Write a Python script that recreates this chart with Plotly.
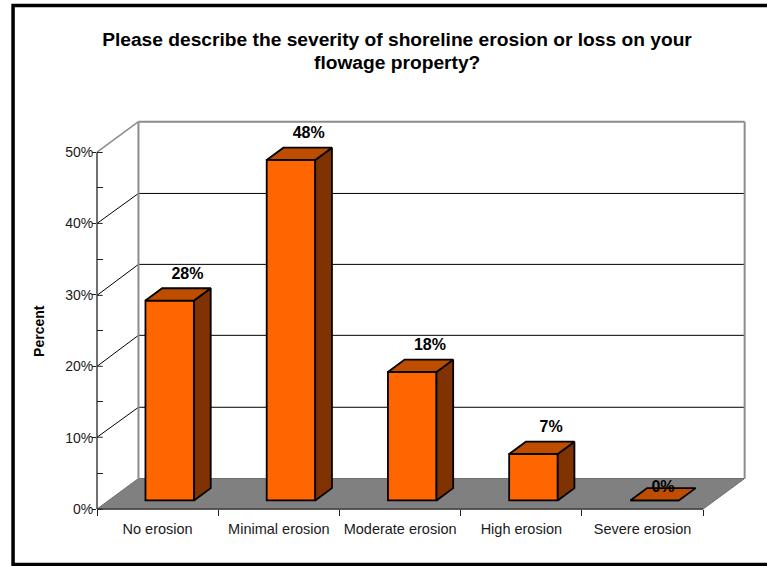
import math
import plotly.graph_objects as go

# ---- data ----
categories = ["No erosion", "Minimal erosion", "Moderate erosion", "High erosion", "Severe erosion"]
percent_values = [28, 47.7, 18, 6.5, 0]
value_labels = ["28%", "48%", "18%", "7%", "0%"]
y_ticks = [0, 10, 20, 30, 40, 50]
y_tick_labels = ["0%", "10%", "20%", "30%", "40%", "50%"]
title_lines = ["Please describe the severity of shoreline erosion or loss on your", "flowage property?"]
y_title = "Percent"

# ---- layout geometry ----
W, H = 767, 566
L, R, T, B = 97.0, 745.5, 121.0, 509.3
PX_X = 121.33      # pixels per category
PX_Y = 7.143       # pixels per percent
XMAX = (R - L) / PX_X
YMAX = (B - T) / PX_Y
WALL_DX, WALL_DY = 41.5 / PX_X, 30.5 / PX_Y   # depth of the floor
BAR_DX, BAR_DY = 16.7 / PX_X, 12.3 / PX_Y     # depth of a bar
BAR_W = 48.6 / PX_X
BAR_OFFSET = 0.6
BAR_BASE = 8.6 / PX_Y
EDGE = 1.8

FRONT, TOP, SIDE = "#FF6600", "#BF4D00", "#803300"
FLOOR, WALL, AXIS = "#808080", "#8C8C8C", "#404040"
FONT = "Liberation Sans, Arial, sans-serif"


def px(x):
    return x / XMAX


def py(y):
    return y / YMAX


def snap(y):
    """Percent height moved onto the nearest pixel centre, so thin lines stay crisp."""
    p = B - y * PX_Y
    return (B - (math.floor(p) + 0.5)) / PX_Y


def line(x0, y0, x1, y1, color, width):
    return dict(type="line", xref="paper", yref="paper", x0=px(x0), y0=py(y0), x1=px(x1), y1=py(y1),
                line=dict(color=color, width=width), layer="below")


shapes = []
# floor
floor = [(0, 0), (WALL_DX, WALL_DY), (WALL_DX + 5, WALL_DY), (5, 0)]
path = "M " + " L ".join(f"{px(a)},{py(b)}" for a, b in floor) + " Z"
shapes.append(dict(type="path", xref="paper", yref="paper", path=path, fillcolor=FLOOR,
                   line=dict(color="#6E6E6E", width=1), layer="below"))
# gridlines
for v in y_ticks[1:-1]:
    back = snap(v + WALL_DY)
    shapes.append(line(0, snap(v), WALL_DX, back, "#000000", 1))
    shapes.append(line(WALL_DX, back, WALL_DX + 5, back, "#000000", 1))
# back wall outline
top = 50
shapes.append(line(0, top, WALL_DX, top + WALL_DY, WALL, 1.5))
shapes.append(line(WALL_DX, WALL_DY, WALL_DX, top + WALL_DY, WALL, 2))
shapes.append(line(WALL_DX, top + WALL_DY, WALL_DX + 5, top + WALL_DY, WALL, 2))
shapes.append(line(WALL_DX + 5, WALL_DY, WALL_DX + 5, top + WALL_DY, WALL, 2))
# front axis lines
shapes.append(line(0, 0, 0, top, AXIS, 1.5))
shapes.append(line(0, 0, 5, 0, AXIS, 1.5))
# inner half of the major ticks
for v in y_ticks:
    shapes.append(line(0, snap(v), 5.7 / PX_X, snap(v), "#202020", 1))


# outer frame
def fx(p):
    return (p - L) / (R - L)


def fy(p):
    return (B - p) / (B - T)


shapes.append(dict(type="path", xref="paper", yref="paper",
                   path=f"M {fx(W + 5)},{fy(5.5)} L {fx(13)},{fy(5.5)} L {fx(13)},{fy(564.8)} L {fx(W + 5)},{fy(564.8)}",
                   line=dict(color="#000000", width=3.5), layer="below"))

fig = go.Figure()
xc = [i + BAR_OFFSET for i in range(len(categories))]

# front faces
fig.add_trace(go.Bar(x=xc, y=percent_values, base=[BAR_BASE] * len(xc), width=BAR_W,
                     marker=dict(color=FRONT, line=dict(color="#000000", width=EDGE)),
                     hoverinfo="skip", showlegend=False))

# sides and tops
for c, v in zip(xc, percent_values):
    x0, x1 = c - BAR_W / 2, c + BAR_W / 2
    y0, y1 = BAR_BASE, BAR_BASE + v
    if v > 0:
        fig.add_trace(go.Scatter(x=[x1, x1 + BAR_DX, x1 + BAR_DX, x1, x1],
                                 y=[y0, y0 + BAR_DY, y1 + BAR_DY, y1, y0],
                                 mode="lines", fill="toself", fillcolor=SIDE,
                                 line=dict(color="#000000", width=EDGE), hoverinfo="skip",
                                 showlegend=False, cliponaxis=False))
    fig.add_trace(go.Scatter(x=[x0, x0 + BAR_DX, x1 + BAR_DX, x1, x0],
                             y=[y1, y1 + BAR_DY, y1 + BAR_DY, y1, y1],
                             mode="lines", fill="toself", fillcolor=TOP,
                             line=dict(color="#000000", width=EDGE), hoverinfo="skip",
                             showlegend=False, cliponaxis=False))

# value labels
lx, ly = [], []
for c, v in zip(xc, percent_values):
    lx.append(c + (BAR_DX + 1 / PX_X if v > 0 else BAR_DX / 2))
    ly.append(BAR_BASE + v + BAR_DY + (13.5 / PX_Y if v > 0 else 0))
fig.add_trace(go.Scatter(x=lx, y=ly, mode="text", text=value_labels, textposition="middle center",
                         textfont=dict(family=FONT, size=16, color="#000000"),
                         texttemplate="<b>%{text}</b>", hoverinfo="skip", showlegend=False,
                         cliponaxis=False))

fig.update_layout(
    width=W, height=H, autosize=False,
    margin=dict(l=L, r=W - R, t=T, b=H - B),
    paper_bgcolor="#FFFFFF", plot_bgcolor="rgba(0,0,0,0)",
    font=dict(family=FONT, color="#1A1A1A"),
    title=dict(text=f"<b>{title_lines[0]}</b>", x=397 / W, xanchor="center", xref="container",
               y=1 - 39 / H, yanchor="middle", yref="container",
               font=dict(family=FONT, size=19.2, color="#000000")),
    shapes=shapes,
    showlegend=False,
    xaxis=dict(range=[0, XMAX], showgrid=False, zeroline=False, showline=False,
               tickmode="array", tickvals=[i + 0.5 for i in range(len(categories))], ticktext=categories,
               ticks="", ticklabelstandoff=9, tickfont=dict(family=FONT, size=14.5, color="#1A1A1A"),
               minor=dict(tickmode="array", tickvals=list(range(len(categories) + 1)), ticks="outside",
                          ticklen=6, tickwidth=1, tickcolor="#202020", showgrid=False)),
    yaxis=dict(range=[0, YMAX], showgrid=False, zeroline=False, showline=False,
               tickmode="array", tickvals=y_ticks, ticktext=y_tick_labels,
               ticks="outside", ticklen=4, tickwidth=1, tickcolor="#202020", ticklabelstandoff=-4,
               tickfont=dict(family=FONT, size=14, color="#1A1A1A"),
               minor=dict(tickmode="array", tickvals=[5, 15, 25, 35, 45], ticks="inside",
                          ticklen=6, tickwidth=1, tickcolor="#202020", showgrid=False)),
    annotations=[
        dict(text=f"<b>{title_lines[1]}</b>", xref="paper", yref="paper", x=fx(397), y=fy(62),
             xanchor="center", yanchor="middle", showarrow=False,
             font=dict(family=FONT, size=19.2, color="#000000")),
        dict(text=f"<b>{y_title}</b>", xref="paper", yref="paper",
             x=fx(39), y=fy(331), xanchor="center", yanchor="middle", textangle=-90, showarrow=False,
             font=dict(family=FONT, size=14, color="#000000")),
    ],
)

fig.write_html("out.html", config=dict(displayModeBar=False),
               post_script="document.body.style.margin='0';")
